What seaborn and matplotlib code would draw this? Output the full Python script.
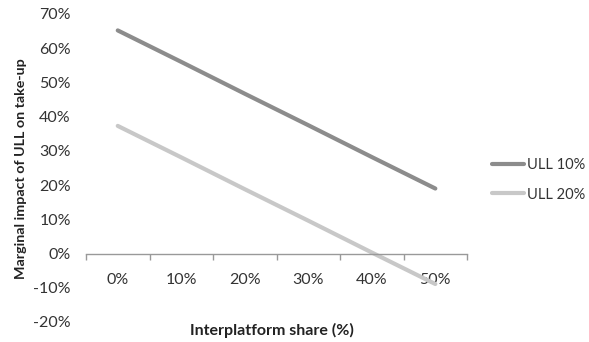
import matplotlib
matplotlib.use("Agg")
import matplotlib.pyplot as plt
from matplotlib.ticker import FixedLocator, FuncFormatter
import numpy as np
import pandas as pd
import seaborn as sns

# Interplatform share categories and the marginal impact of ULL on take-up (%)
shares = ["0%", "10%", "20%", "30%", "40%", "50%"]
ull_10 = [65.2, 56.0, 46.7, 37.5, 28.2, 19.0]
ull_20 = [37.3, 28.1, 18.8, 9.6, 0.3, -8.9]
series_names = ["ULL 10%", "ULL 20%"]
y_ticks = [70, 60, 50, 40, 30, 20, 10, 0, -10, -20]

df = pd.DataFrame({
    "pos": list(range(len(shares))) * 2,
    "impact": ull_10 + ull_20,
    "series": [series_names[0]] * len(shares) + [series_names[1]] * len(shares),
})

sns.set_style("white")
plt.rcParams["font.family"] = ["Lato", "DejaVu Sans"]

fig = plt.figure(figsize=(5.89, 3.42), dpi=100)
ax = fig.add_axes([0.146, 0.0585, 0.647, 0.9006])

palette = {series_names[0]: "#8c8c8c", series_names[1]: "#c8c8c8"}
sns.lineplot(data=df, x="pos", y="impact", hue="series", palette=palette,
             linewidth=3, ax=ax, legend=True)

ax.set_xlim(-0.5, len(shares) - 0.5)
ax.set_ylim(-20, 70)

# Category axis crossing at zero, tick marks on category boundaries
for side in ["left", "right", "top"]:
    ax.spines[side].set_visible(False)
ax.spines["bottom"].set_position(("data", 0))
ax.spines["bottom"].set_color("#999999")
ax.spines["bottom"].set_linewidth(1)

ax.xaxis.set_major_locator(FixedLocator(np.arange(-0.5, len(shares), 1.0)))
ax.xaxis.set_major_formatter(FuncFormatter(lambda v, p: ""))
ax.set_xticks(range(len(shares)), shares, minor=True)
ax.tick_params(axis="x", which="major", direction="out", length=4, width=1,
               color="#999999", bottom=True)
ax.tick_params(axis="x", which="minor", length=0, pad=14, labelsize=11.5,
               labelcolor="#333333")

ax.set_yticks(y_ticks)
ax.set_yticklabels([f"{t}%" for t in y_ticks])
ax.tick_params(axis="y", length=0, pad=11, labelsize=11.5, labelcolor="#333333")

# Axis titles placed in figure coordinates
ax.set_xlabel("")
ax.set_ylabel("")
fig.text(0.035, 0.508, "Marginal impact of ULL on take-up", rotation=90,
         ha="center", va="center", fontsize=10.3, fontweight="bold",
         color="#222222")
fig.text(0.462, 0.035, "Interplatform share (%)", ha="center", va="center",
         fontsize=11.5, fontweight="bold", color="#222222")

leg = ax.legend(loc="center left", bbox_to_anchor=(0.835, 0.474),
                bbox_transform=fig.transFigure, frameon=False,
                handlelength=2.2, handletextpad=0.2, labelspacing=1.05,
                borderpad=0, borderaxespad=0, fontsize=10.5)
for t in leg.get_texts():
    t.set_color("#333333")

fig.savefig("out.png", dpi=100)
